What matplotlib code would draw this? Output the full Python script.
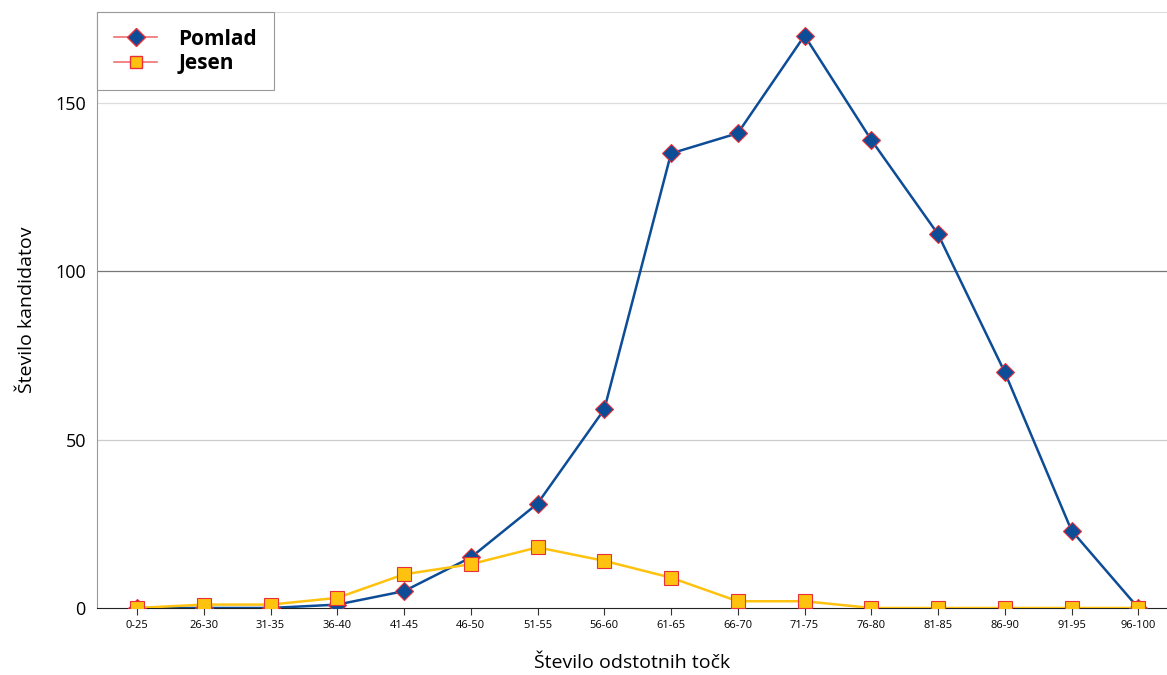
import numpy as np
import matplotlib.pyplot as plt
from matplotlib.lines import Line2D

plt.rcParams['font.family'] = ['Open Sans', 'DejaVu Sans']

categories = ['0-25', '26-30', '31-35', '36-40', '41-45', '46-50', '51-55', '56-60',
              '61-65', '66-70', '71-75', '76-80', '81-85', '86-90', '91-95', '96-100']
pomlad = [0, 0, 0, 1, 5, 15, 31, 59, 135, 141, 170, 139, 111, 70, 23, 0]
jesen = [0, 1, 1, 3, 10, 13, 18, 14, 9, 2, 2, 0, 0, 0, 0, 0]

blue = '#0d4c96'
yellow = '#ffc20e'
red = '#e8303a'

fig = plt.figure(figsize=(11.67, 6.75), dpi=100)
ax = fig.add_axes([0.0831, 0.0993, 0.9169, 0.8829])

x = np.arange(len(categories))
ax.plot(x, pomlad, color=blue, lw=1.8, marker='D', ms=9.5, mfc=blue, mec=red, mew=0.8, zorder=3)
ax.plot(x, jesen, color=yellow, lw=1.8, marker='s', ms=9.5, mfc=yellow, mec=red, mew=0.8, zorder=4)

ax.set_xlim(-0.6, 15.43)
ax.set_ylim(0, 177)
ax.set_xticks(x)
ax.set_xticklabels(categories, fontsize=8)
ax.set_yticks([0, 50, 100, 150])
ax.tick_params(axis='y', length=0, labelsize=13, pad=8)
ax.tick_params(axis='x', length=5, width=0.8, color='#333333', pad=4)

for v, c in [(50, '#cccccc'), (100, '#777777'), (150, '#dddddd')]:
    ax.axhline(v, color=c, lw=0.9, zorder=1)

ax.spines['right'].set_visible(False)
ax.spines['top'].set_color('#dddddd')
ax.spines['left'].set_color('#999999')
ax.spines['bottom'].set_color('#222222')

ax.set_xlabel('Število odstotnih točk', fontsize=14, labelpad=16)
ax.set_ylabel('Število kandidatov', fontsize=14, labelpad=14)

handles = [
    Line2D([], [], color='#f07070', lw=1.2, marker='D', ms=9, mfc=blue, mec=red),
    Line2D([], [], color='#f07070', lw=1.2, marker='s', ms=9, mfc=yellow, mec=red),
]
leg = ax.legend(handles, ['Pomlad', 'Jesen'], loc='upper left', bbox_to_anchor=(0, 1),
                fancybox=False, framealpha=1, edgecolor='#999999', borderpad=0.8,
                handlelength=2.1, handletextpad=1.0, labelspacing=0.15,
                prop={'weight': 'bold', 'size': 15}, borderaxespad=0)
leg.get_frame().set_linewidth(0.8)

fig.savefig('out.png', dpi=100)
